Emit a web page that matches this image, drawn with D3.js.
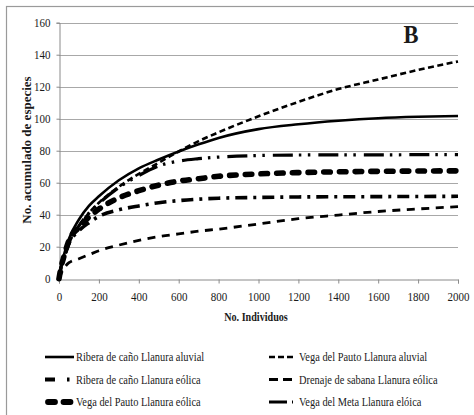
<!DOCTYPE html>
<html><head><meta charset="utf-8">
<script src="https://cdn.jsdelivr.net/npm/d3@7"></script>
<style>
body{margin:0;background:#fff;}
svg{display:block;}
svg text{font-family:"Liberation Serif","Times New Roman",Times,Tinos,"DejaVu Serif",serif !important;fill:#1a1a1a;}
</style></head>
<body>
<svg id="c" width="474" height="415"></svg>
<script>
// ---- data ----
const xIndividuos = [0,10,25,50,100,150,200,300,400,500,600,700,800,1000,1200,1400,1600,1800,2000];
const riberaAluvial = [0,8,15,25,37,45.5,51.5,61.5,69,74.5,79.5,84,88,93.5,96.5,98.7,100.3,101.2,101.7];
const pautoAluvial = [0,7,13,22,33,41,47.5,57.5,65.5,72.5,79.5,86,91.5,101.5,110.5,118.5,124.5,130.5,135.8];
const riberaEolica = [0,7,13,22,30,35,39,43,45.5,47.5,48.8,49.7,50.3,50.8,51.1,51.2,51.3,51.4,51.5];
const drenajeEolica = [0,3,6.5,10,12.5,15,17.5,21,24,26.3,28,29.7,31,34.2,37.5,39.8,42,43.6,45];
const pautoEolica = [0,7,14,24,32,38.5,43.5,50.5,55,58.5,61,62.5,64,65.5,66.3,66.8,67.1,67.3,67.4];
const metaEolica = [0,7,13,22,33,41,47,57,64.5,70.5,73.5,75,76,77,77.3,77.4,77.4,77.5,77.5];
const xTicks = [0,200,400,600,800,1000,1200,1400,1600,1800,2000];
const yTicks = [0,20,40,60,80,100,120,140,160];
const seriesNames = ["Ribera de caño Llanura aluvial","Vega del Pauto Llanura aluvial","Ribera de caño Llanura eólica","Drenaje de sabana Llanura eólica","Vega del Pauto Llanura eólica","Vega del Meta Llanura elóica"];
const xTitle = "No. Individuos";
const yTitle = "No. acumulado de especies";
const panelLabel = "B";

// ---- styles ----
const styles = [
  {w:2.6, dash:null, cap:"butt"},
  {w:2.6, dash:"6,3.5", cap:"butt"},
  {w:3.6, dash:"12,6,3,6", cap:"butt"},
  {w:2.8, dash:"8,6.5", cap:"butt"},
  {w:5.6, dash:"6.5,9.2", cap:"round"},
  {w:3.2, dash:"20,6,2.5,6.5,2.5,8", cap:"butt"}
];
const seriesData = [riberaAluvial,pautoAluvial,riberaEolica,drenajeEolica,pautoEolica,metaEolica];

const svg = d3.select("#c");
const L=59, R=458, T=22.7, B=278.7;
const x = d3.scaleLinear().domain([0,2000]).range([L,R]);
const y = d3.scaleLinear().domain([0,160]).range([B,T]);

// outer frame
svg.append("rect").attr("x",6.5).attr("y",6.5).attr("width",500).attr("height",450)
  .attr("fill","none").attr("stroke","#9a9a9a").attr("stroke-width",1.2);

// gridlines
svg.append("g").selectAll("line").data(yTicks.filter(d=>d>0)).join("line")
  .attr("x1",L).attr("x2",R).attr("y1",d=>Math.round(y(d))+0.5).attr("y2",d=>Math.round(y(d))+0.5)
  .attr("stroke","#a8a8a8").attr("stroke-width",1);

// axes
const sx = 0.88;
const gx = svg.append("g").attr("transform",`translate(0,${Math.round(B)+0.5})`)
  .call(d3.axisBottom(x).tickValues(xTicks).tickSize(4).tickPadding(8.5).tickFormat(d3.format("d")));
const gy = svg.append("g").attr("transform",`translate(${L+0.5},0)`)
  .call(d3.axisLeft(y).tickValues(yTicks).tickSize(3).tickPadding(6).tickFormat(d3.format("d")));
[gx,gy].forEach(g=>{
  g.attr("font-family",null);
  g.select(".domain").attr("stroke","#8a8a8a");
  g.selectAll(".tick line").attr("stroke","#8a8a8a");
  g.selectAll(".tick text").attr("font-size",12.5).attr("fill","#1a1a1a");
});
gx.selectAll(".tick text").attr("transform",`scale(${sx},1)`);
gy.selectAll(".tick text").attr("transform",`scale(${sx},1)`).attr("x",-9/sx);

// lines
const line = d3.line().x((d,i)=>x(xIndividuos[i])).y(d=>y(d)).curve(d3.curveMonotoneX);
const order = [3,2,4,5,1,0];
order.forEach(k=>{
  const s = styles[k];
  svg.append("path").datum(seriesData[k]).attr("d",line)
    .attr("fill","none").attr("stroke","#000").attr("stroke-width",s.w)
    .attr("stroke-dasharray",s.dash).attr("stroke-linecap",s.cap);
});

// panel label
svg.append("text").attr("transform","translate(411,42.5) scale(0.9,1)")
  .attr("text-anchor","middle").attr("font-size",25).attr("font-weight","bold").text(panelLabel);

// titles
svg.append("text").attr("transform","translate(256,321) scale(0.78,1)")
  .attr("text-anchor","middle").attr("font-size",13).attr("font-weight","bold").text(xTitle);
svg.append("text").attr("transform","translate(31,150) rotate(-90)")
  .attr("text-anchor","middle").attr("font-size",13).attr("font-weight","bold").text(yTitle);

// legend
const legRows = [357,379.5,402];
const legCols = [{x1:45,x2:74,tx:76},{x1:269,x2:293,tx:299}];
const legendStyles = [
  {w:2.6, dash:null, cap:"butt"},
  {w:2.6, dash:"6,3,6,3,6,10", cap:"butt"},
  {w:3.8, dash:"10,12,2.5,20", cap:"butt"},
  {w:3, dash:"9,5,9,10", cap:"butt"},
  {w:5.8, dash:"7,8.5,7,20", cap:"round"},
  {w:3.2, dash:"18,5,2.5,10", cap:"butt"}
];
seriesNames.forEach((name,i)=>{
  const col = legCols[i%2], row = legRows[Math.floor(i/2)];
  const s = legendStyles[i];
  let x1 = col.x1, x2 = col.x2;
  if (s.cap==="round"){x1+=3;x2-=2;}
  svg.append("line").attr("x1",x1).attr("x2",x2).attr("y1",row).attr("y2",row)
    .attr("stroke","#000").attr("stroke-width",s.w).attr("stroke-dasharray",s.dash).attr("stroke-linecap",s.cap);
  svg.append("text").attr("transform",`translate(${col.tx},${row+4.3}) scale(0.8,1)`)
    .attr("font-size",13).text(name);
});
</script>
</body></html>
